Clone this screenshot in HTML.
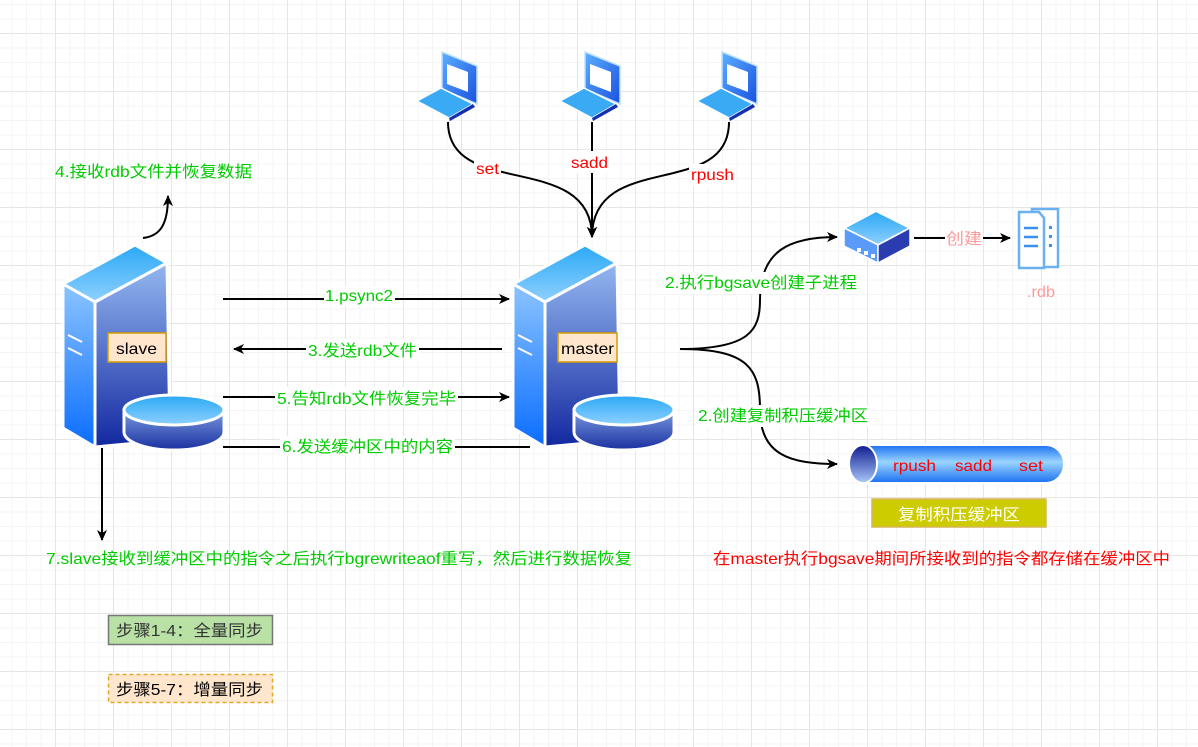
<!DOCTYPE html>
<html><head><meta charset="utf-8"><style>
html,body{margin:0;padding:0;background:#fff}
body{width:1198px;height:747px;overflow:hidden;position:relative;
background-image:
linear-gradient(#e6e6e6 1px,transparent 1px),
linear-gradient(90deg,#e6e6e6 1px,transparent 1px),
linear-gradient(#f4f4f4 1px,transparent 1px),
linear-gradient(90deg,#f4f4f4 1px,transparent 1px);
background-size:58px 58px,58px 58px,14.5px 14.5px,14.5px 14.5px;
background-position:0 33px,55px 0,0 33px,55px 0;
font-family:"Liberation Sans","Noto Sans CJK SC",sans-serif}
svg{position:absolute;left:0;top:0}
text{font-family:"Liberation Sans","Noto Sans CJK SC",sans-serif;font-size:16px}
</style></head><body>
<svg width="1198" height="747" viewBox="0 0 1198 747">
<defs>
<linearGradient id="gTop" x1="0" y1="0" x2="0" y2="1"><stop offset="0" stop-color="#2aa8f5"/><stop offset="1" stop-color="#8fd0ff"/></linearGradient>
<linearGradient id="gLeft" x1="0" y1="0" x2="0" y2="1"><stop offset="0" stop-color="#8cc4ff"/><stop offset="1" stop-color="#0a6dff"/></linearGradient>
<linearGradient id="gFront" x1="0" y1="0" x2="0" y2="1"><stop offset="0" stop-color="#94b8f0"/><stop offset="1" stop-color="#1228a0"/></linearGradient>
<linearGradient id="gDiskSide" x1="0" y1="0" x2="0" y2="1"><stop offset="0" stop-color="#7a9ae0"/><stop offset="1" stop-color="#1a30a0"/></linearGradient>
<linearGradient id="gPipe" x1="0" y1="0" x2="0" y2="1"><stop offset="0" stop-color="#1a6ff0"/><stop offset="0.45" stop-color="#9ad4ff"/><stop offset="1" stop-color="#1a6ff0"/></linearGradient>
<linearGradient id="gEnd" x1="0" y1="0" x2="0" y2="1"><stop offset="0" stop-color="#101a90"/><stop offset="1" stop-color="#a8c8f8"/></linearGradient>
<linearGradient id="gScr" x1="0" y1="0" x2="1" y2="1"><stop offset="0" stop-color="#5ab0ff"/><stop offset="1" stop-color="#1a50e0"/></linearGradient>
<marker id="ar" markerWidth="12" markerHeight="10" refX="10" refY="5" orient="auto" markerUnits="userSpaceOnUse"><path d="M0,0 L11,5 L0,10 L3,5 Z" fill="#000"/></marker>
<g id="server">
<polygon points="63,284 135,245 167,263 95,302" fill="url(#gTop)" stroke="#fff" stroke-width="3"/>
<polygon points="63,284 95,302 95,447 63,428" fill="url(#gLeft)" stroke="#fff" stroke-width="3"/>
<polygon points="95,302 167,263 170,440 95,447" fill="url(#gFront)" stroke="#fff" stroke-width="3"/>
<line x1="68" y1="335" x2="82" y2="342" stroke="#fff" stroke-width="2"/>
<line x1="68" y1="348" x2="82" y2="355" stroke="#fff" stroke-width="2"/>
<path d="M124,410 L124,432 A50,18 0 0 0 224,432 L224,410 Z" fill="url(#gDiskSide)" stroke="#fff" stroke-width="3"/>
<ellipse cx="174" cy="410" rx="50" ry="15" fill="url(#gTop)" stroke="#fff" stroke-width="3"/>
</g>
<g id="laptop">
<polygon points="442,52 477,66 477,104 442,89" fill="url(#gScr)" stroke="#bfe0ff" stroke-width="1.5"/>
<polygon points="447,64 468,72 468,92 447,84" fill="#fff"/>
<polygon points="417,101 441,88 473,104 449,118" fill="#3aaaf5" stroke="#fff" stroke-width="1.5"/>
<polygon points="449,118 473,104 475,107 450,121" fill="#1430b0"/>
</g>
</defs>

<use href="#server"/>
<use href="#server" x="450"/>
<rect x="108" y="333" width="58" height="29" fill="#ffe6cc" stroke="#d79b00" stroke-width="1.5"/>
<text x="116" y="354" textLength="41" lengthAdjust="spacingAndGlyphs">slave</text>
<rect x="558" y="333" width="59" height="29" fill="#ffe6cc" stroke="#d79b00" stroke-width="1.5"/>
<text x="561" y="354" textLength="53" lengthAdjust="spacingAndGlyphs">master</text>

<use href="#laptop"/>
<use href="#laptop" x="143"/>
<use href="#laptop" x="280"/>

<g fill="none" stroke="#000" stroke-width="2">
<path d="M448,122 C448,200 592,150 592,237" marker-end="url(#ar)"/>
<path d="M592,122 L592,237" marker-end="url(#ar)"/>
<path d="M729,122 C729,200 592,150 592,237" marker-end="url(#ar)"/>
</g>
<rect x="474" y="158" width="27" height="20" fill="#fff"/>
<text x="476" y="174" fill="#f00" textLength="23" lengthAdjust="spacingAndGlyphs">set</text>
<rect x="569" y="151" width="41" height="22" fill="#fff"/>
<text x="571" y="168" fill="#f00" textLength="37" lengthAdjust="spacingAndGlyphs">sadd</text>
<rect x="689" y="164" width="47" height="22" fill="#fff"/>
<text x="691" y="180" fill="#f00" textLength="43" lengthAdjust="spacingAndGlyphs">rpush</text>

<path d="M143,238 C160,236 168,225 168,196" fill="none" stroke="#000" stroke-width="2" marker-end="url(#ar)"/>
<text x="55" y="177" fill="#0c0" textLength="197" lengthAdjust="spacingAndGlyphs">4.接收rdb文件并恢复数据</text>

<g fill="none" stroke="#000" stroke-width="2">
<line x1="223" y1="299" x2="509" y2="299" marker-end="url(#ar)"/>
<line x1="502" y1="349" x2="234" y2="349" marker-end="url(#ar)"/>
<line x1="223" y1="397" x2="509" y2="397" marker-end="url(#ar)"/>
<line x1="223" y1="447" x2="530" y2="447"/>
<line x1="102" y1="448" x2="102" y2="540" marker-end="url(#ar)"/>
</g>
<rect x="324" y="286" width="71" height="20" fill="#fff"/>
<text x="325" y="301" fill="#0c0" textLength="68" lengthAdjust="spacingAndGlyphs">1.psync2</text>
<rect x="306" y="339" width="113" height="20" fill="#fff"/>
<text x="308" y="356" fill="#0c0" textLength="109" lengthAdjust="spacingAndGlyphs">3.发送rdb文件</text>
<rect x="275" y="387" width="183" height="20" fill="#fff"/>
<text x="277" y="404" fill="#0c0" textLength="179" lengthAdjust="spacingAndGlyphs">5.告知rdb文件恢复完毕</text>
<rect x="280" y="436" width="175" height="20" fill="#fff"/>
<text x="282" y="452" fill="#0c0" textLength="171" lengthAdjust="spacingAndGlyphs">6.发送缓冲区中的内容</text>

<text x="46" y="564" fill="#0c0" textLength="586" lengthAdjust="spacingAndGlyphs">7.slave接收到缓冲区中的指令之后执行bgrewriteaof重写，然后进行数据恢复</text>

<g fill="none" stroke="#000" stroke-width="2">
<path d="M680,349 C750,349 760,330 760,300 C760,250 790,237 837,237" marker-end="url(#ar)"/>
<path d="M680,349 C750,349 760,370 760,410 C760,455 790,464 837,464" marker-end="url(#ar)"/>
<line x1="914" y1="238" x2="1010" y2="238" marker-end="url(#ar)"/>
</g>
<rect x="663" y="272" width="196" height="22" fill="#fff"/>
<text x="665" y="288" fill="#0c0" textLength="192" lengthAdjust="spacingAndGlyphs">2.执行bgsave创建子进程</text>
<rect x="696" y="405" width="174" height="22" fill="#fff"/>
<text x="698" y="421" fill="#0c0" textLength="170" lengthAdjust="spacingAndGlyphs">2.创建复制积压缓冲区</text>

<polygon points="844,228 876,211 910,228 878,245" fill="url(#gTop)" stroke="#fff" stroke-width="2"/>
<polygon points="844,228 878,245 878,263 844,246" fill="#5a9af8" stroke="#fff" stroke-width="1.5"/>
<polygon points="878,245 910,228 910,246 878,263" fill="#2a3cb0" stroke="#fff" stroke-width="1.5"/>
<rect x="857" y="248" width="4" height="4" fill="#fff"/><rect x="864" y="251" width="4" height="4" fill="#fff"/><rect x="871" y="254" width="4" height="4" fill="#fff"/>
<rect x="945" y="228" width="38" height="22" fill="#fff"/>
<text x="946" y="244" fill="#f99" textLength="36" lengthAdjust="spacingAndGlyphs">创建</text>

<rect x="1032" y="209" width="26" height="58" fill="#fff" stroke="#6ab0f5" stroke-width="2.5"/>
<polygon points="1019,212 1039,212 1044,218 1044,268 1019,268" fill="#fff" stroke="#6ab0f5" stroke-width="2.5"/>
<g stroke="#3a90f0" stroke-width="2.5"><line x1="1024" y1="228" x2="1038" y2="228"/><line x1="1024" y1="237" x2="1038" y2="237"/><line x1="1024" y1="246" x2="1038" y2="246"/></g>
<g fill="#3a90f0"><rect x="1049" y="226" width="3" height="3"/><rect x="1049" y="235" width="3" height="3"/><rect x="1049" y="244" width="3" height="3"/></g>
<text x="1027" y="297" fill="#f99" textLength="28" lengthAdjust="spacingAndGlyphs">.rdb</text>

<path d="M868,445 L1046,445 A18,19 0 0 1 1046,483 L868,483 Z" fill="url(#gPipe)" stroke="#fff" stroke-width="2"/>
<ellipse cx="863" cy="464" rx="14" ry="19" fill="url(#gEnd)" stroke="#fff" stroke-width="2"/>
<text x="893" y="471" fill="#f00" textLength="43" lengthAdjust="spacingAndGlyphs">rpush</text>
<text x="955" y="471" fill="#f00" textLength="37" lengthAdjust="spacingAndGlyphs">sadd</text>
<text x="1019" y="471" fill="#f00" textLength="24" lengthAdjust="spacingAndGlyphs">set</text>

<rect x="872" y="499" width="174" height="28" fill="#cccc00" stroke="#d6b656" stroke-width="1.5"/>
<text x="898" y="520" fill="#fff" textLength="122" lengthAdjust="spacingAndGlyphs">复制积压缓冲区</text>

<text x="713" y="564" fill="#f00" textLength="457" lengthAdjust="spacingAndGlyphs">在master执行bgsave期间所接收到的指令都存储在缓冲区中</text>

<rect x="108.5" y="615.5" width="164" height="29" fill="#b9e0a5" stroke="#777" stroke-width="1.5"/>
<text x="116" y="636" fill="#333" textLength="147" lengthAdjust="spacingAndGlyphs">步骤1-4：全量同步</text>
<rect x="108.5" y="674.5" width="164" height="28" fill="#ffe6cc" stroke="#e3a82a" stroke-width="1.5" stroke-dasharray="4,3"/>
<text x="116" y="695" fill="#000" textLength="147" lengthAdjust="spacingAndGlyphs">步骤5-7：增量同步</text>
</svg>
</body></html>
